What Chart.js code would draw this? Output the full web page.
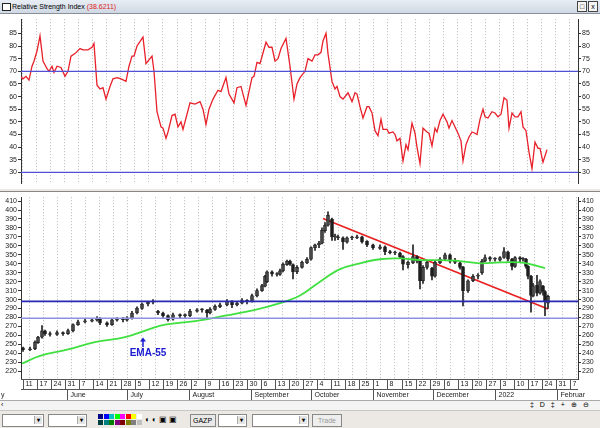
<!DOCTYPE html>
<html>
<head>
<meta charset="utf-8">
<script src="https://cdn.jsdelivr.net/npm/chart.js@4.4.1/dist/chart.umd.min.js"></script>
<style>
  body { margin: 0; width: 600px; height: 428px; background: #ece9e4; font-family: "Liberation Sans", Arial, sans-serif; overflow: hidden; position: relative; }
  .abs { position: absolute; }
  #titlebar { left: 0; top: 0; width: 600px; height: 13px; background: linear-gradient(#e8eef5, #cfd8e3); border-bottom: 1px solid #8a9099; font-size: 7px; line-height: 13px; }
  #titlebar .icon { position: absolute; left: 2px; top: 3px; width: 7px; height: 6px; border: 1px solid #222; background: #fff; }
  #titlebar .txt { position: absolute; left: 12px; top: 0; }
  #titlebar .btn { position: absolute; top: 1px; width: 8px; height: 9px; border: 1px solid #444; background: #f4f4f4; font-size: 7px; line-height: 9px; text-align: center; }
  #rsiBox { left: 0; top: 14px; width: 600px; height: 175px; background: #fff; }
  #priceBox { left: 0; top: 191px; width: 600px; height: 208px; background: #fff; border-top: 1px solid #888; }
  #scroll { left: 0; top: 400px; width: 600px; height: 9px; background: #f4f4f4; border-top: 1px solid #aaa; font-size: 7px; }
  #tools { left: 0; top: 410px; width: 600px; height: 18px; background: #ece9e4; border-top: 1px solid #c8c8c8; font-size: 7px; }
  .sel { position: absolute; top: 3px; height: 11px; background: #fff; border: 1px solid #888; }
  .sel b { position: absolute; right: 1px; top: 1px; width: 7px; height: 8px; background: #e4e4e4; border-left: 1px solid #aaa; font-size: 6px; text-align: center; line-height: 8px; }
  .pal { position: absolute; top: 3px; width: 5px; height: 5px; }
</style>
</head>
<body>
<div id="titlebar" class="abs">
  <div class="icon"></div>
  <div class="txt">Relative Strength Index <span style="color:#e02020">(38.6211)</span></div>
  <div class="btn" style="left:577px">□</div>
  <div class="btn" style="left:588px">x</div>
</div>
<div id="rsiBox" class="abs"><canvas id="rsiChart" width="600" height="175"></canvas></div>
<div id="priceBox" class="abs"><canvas id="priceChart" width="600" height="208"></canvas></div>
<div id="scroll" class="abs">
  <span style="position:absolute;left:1px;top:0">‹</span>
  <span style="position:absolute;left:530px;top:0;letter-spacing:2px">‡ D ‡ + ⊕ ⊖ ◂ ▸</span>
</div>
<div id="tools" class="abs">
  <div class="sel" style="left:2px;width:40px"><b>▾</b></div>
  <div class="sel" style="left:48px;width:37px"><b>▾</b></div>
  <div id="palette"></div>
  <div style="position:absolute;left:145px;top:4px;font-size:8px;letter-spacing:2px">◐◐▣▣</div>
  <div class="sel" style="left:190px;width:22px;background:#e8e8e8;padding-left:2px;line-height:11px">GAZP</div>
  <div class="sel" style="left:218px;width:27px"><b>▾</b></div>
  <div class="sel" style="left:252px;width:55px"><b>▾</b></div>
  <div class="sel" style="left:312px;width:28px;background:#eee;color:#999;text-align:center;line-height:11px">Trade</div>
</div>

<script>
// RSI series (day offset, value)
const rsiDays = [-2.5,-1,0.5,2,3.5,4.5,6,7.5,9,11,12,13.5,14.5,16,18,20,21.5,23,25,27.5,29,31.5,33.5,34.5,36,37.5,39,40.5,42.5,44,46,48,50.5,52,53.5,54.5,56,59,60.5,63.5,64.5,66,68,69,70.5,71.5,73.5,75,76.5,78,79,82.5,85,87.5,89,90.5,92,94,96.5,98,100.5,102,104.5,106,108,110.5,113.5,114.5,116,117.5,120.5,122,123.5,125,126.5,128,130.5,132.5,134.5,136,137.5,
  140,141.5,143.5,145,146.5,148,149,150.5,151.5,153.5,155,156,157.5,159,161.5,163.5,165,166,167.5,169,171,172,173.5,175,176.5,178,179,181,182,184,185,186,187.5,189,190.5,191.5,193.5,195,196,197.5,199,201,202,203.5,205,206,207.5,209,211,212,213.5,215,216.5,218,219,220.5,222,223.5,225,226,227.5,229,230,231.5,233.5,235,236.5,238,239.5,241,242,243.5,245,246.5,248,249,250.5,252,253.5,255,256.5,257.5,259,261];
const rsiValues = [68,67,68,66.5,72,74,78,84,74,71,70,72,69.5,72,71.5,68,70,76,77,79,78.5,78.5,79.5,81,64.5,63,63.5,59,64,67,67.5,67,66,72,76,76,80,83.5,73,76,70,54,48,47.5,43.5,46,52.5,53,48,50,47,57.5,57,58,55,49,55,59,62.5,62,67.5,61,57.5,63.5,64,56.5,67.5,68,73.5,73,81.5,79.5,79.5,74,75,79,83,72,59,65,67.5,
  70,75,74,76.5,76.5,77.5,82,85,77,66,63,64,60,59,61.5,58,61.5,61,56,51.5,56,56,53.5,46.5,44.5,51,47,47,45.5,46,45,42.5,43.5,34.5,41,39,49.5,45.5,40,33.5,47.5,46,45.5,40.5,47.5,46,50.5,53,50,47.5,50.5,48,45.5,42.5,34.5,41,44,46,45.5,45,51,55,52,51.5,54,53.5,52,53,59.5,58.5,47.5,53.5,52,52,54,48,46.5,38,31.5,42,39.5,39.5,34,39];
const rsiLevels = [70, 30];
const rsiTicks = [30,35,40,45,50,55,60,65,70,75,80,85];

// price candles
const candleDays = [-1,2.5,5,6.5,8.5,10,12.5,16,19,21.5,24,26.5,30,33.5,36,37.5,41,43.5,46,49,51,53.5,56,58.5,61.5,64,66.5,69,71.5,74,77.5,80,82.5,86,88.5,91,92.5,95,97.5,101,103.5,106,108.5,111,113.5,116,118.5,120,121,123.5,126,127.5,129,131,132.5,134,136,138.5,141,143,145,147,148.5,150,151.5,153.5,155,156.5,159,161,163.5,166,168.5,171,174,177.5,180,182.5,185,187.5,189,191.5,194,196,197.5,199,201,203.5,205,207.5,210,212.5,215,217.5,219,221.5,224,226.5,228.5,230,232.5,235,237.5,239.5,241.5,243.5,245,247.5,249,250.5,251.5,253,254,256,257.5,259,260,261.5];
const candleOpen  = [246,244,245,252,258,265,262,261,263,262,265,272,275,276,277,279,274,272,277,278,277,279,285,290,295,297,287,285,282,278,283,282,282,287,289,288,285,289,292,294,298,294,296,299,298,304,310,315,320,331,328,328,332,339,343,339,331,336,341,345,358,361,363,377,383,390,370,370,369,364,369,369,370,365,361,357,359,353,352,352,348,339,341,348,343,321,336,335,326,341,345,350,343,341,336,310,321,326,330,343,347,345,344,347,353,345,337,347,345,345,337,326,304,316,307,315,309,296];
const candleHigh  = [247,247,254,259,271,266,264,265,264,267,273,277,278,279,281,280,275,279,280,280,281,287,292,296,298,300,288,286,283,285,284,284,289,290,290,289,291,294,296,300,299,298,301,300,306,312,317,327,332,332,330,334,341,344,344,340,338,343,347,359,362,365,380,386,398,391,373,372,370,370,371,372,371,366,362,361,360,355,354,353,349,343,361,349,344,338,343,336,343,347,352,351,346,342,337,322,328,329,345,350,348,347,348,358,354,346,348,348,347,346,338,327,318,327,322,316,310,305];
const candleLow   = [242,243,244,251,257,260,259,260,260,261,264,271,274,275,276,272,270,271,276,275,276,278,284,289,293,295,283,280,276,277,279,280,281,286,286,280,284,288,291,293,291,293,295,295,297,303,309,314,319,326,326,327,331,338,338,323,329,335,340,344,355,358,362,375,382,366,366,367,356,363,367,368,363,359,356,356,350,351,350,346,333,335,340,341,312,318,334,322,325,340,344,341,340,334,293,308,320,323,328,342,343,343,343,346,343,333,336,342,343,335,323,286,303,304,306,305,282,290];
const candleClose = [244,245,252.5,258,265,262,261,263,262,265.5,272,275,276,277.5,278.5,274,272,277.5,278.5,277.5,279.5,285,290.5,295,297,298,285,282,277.5,283,282,282,287,288.5,288.5,285,289.5,292.5,294,298,294,296,299,298,304.5,310,315.5,326,331,328.5,328.5,332,339.5,343,339.5,331,336,341.5,345,358,361,363,377.5,383,394,370,370,369,364.5,369,369,370,364.5,361,358,359,353.5,352.5,352.5,348,339.5,341.5,348,343,321,336,341.5,326,341.5,345,350,343,341.5,336,310,321,326,326,343,347,345,345,347,353.5,345,337,347,345,345,337,326,304.5,315.5,307,320,309,298,303.5];

// EMA-55
const emaDays   = [-1.5,7.5,21,35,50,61.5,70,85,100,115,127.5,137.5,147.5,157.5,167.5,177.5,187.5,197.5,207.5,217.5,227.5,237.5,247.5,252.5,260];
const emaValues = [228.6,237,244,252.5,258,266.5,272,276,282,288.5,296,304.5,320,334,340.5,345,346,344,344,343,340.5,341.5,341.5,339.5,335];

const trendDays = [149, 261.5];
const trendValues = [390.5, 289.5];
const priceLevels = [298, 279];
const priceTicks = [220,230,240,250,260,270,280,290,300,310,320,330,340,350,360,370,380,390,400,410];

const weekLabels = ["11","17","24","31","7","14","21","28","5","12","19","26","2","9","16","23","30","6","13","20","27","4","11","18","25","1","8","15","22","29","6","13","20","27","3","10","17","24","31","7"];
const monthNames = ["June","July","August","September","October","November","December","2022","Februar"];
const monthStartDays = [21,51,82,113,143,174,204,235,266];

// palette in toolbar
const palColors = ["#000080","#0000ff","#00c0c0","#00ff00","#ff00ff","#ff0000","#ffff00","#ffffff","#004040","#008080","#008000","#800080","#800000","#808000","#808080","#c0c0c0"];
const pal = document.getElementById("palette");
palColors.forEach((c, i) => {
  const d = document.createElement("div");
  d.className = "pal";
  d.style.left = (98 + (i % 8) * 5.5) + "px";
  d.style.top = (i < 8 ? 3 : 9) + "px";
  d.style.background = c;
  pal.appendChild(d);
});

const weekTicks = weekLabels.map((l, i) => -1.15 + 7.015 * i);
const X_MIN = -2, X_MAX = 276.5;
const FONT = { family: "Liberation Sans", size: 7 };

function xScale(hideLabels) {
  return {
    type: "linear", min: X_MIN, max: X_MAX, offset: false,
    afterBuildTicks: s => { s.ticks = weekTicks.map(v => ({ value: v })); },
    afterFit: s => { s.height = hideLabels ? 0 : 21; },
    ticks: { display: false },
    grid: { color: "#b8b8b8", drawTicks: false },
    border: { display: false, dash: [1, 2] }
  };
}

function yScale(pos, min, max, ticks, w) {
  return {
    type: "linear", position: pos, min: min, max: max,
    afterBuildTicks: s => { s.ticks = ticks.map(v => ({ value: v })); },
    afterFit: s => { s.width = w; },
    ticks: { font: FONT, color: "#222", padding: 1, autoSkip: false },
    grid: { drawOnChartArea: false, tickLength: 3, color: "#333" },
    border: { color: "#333", width: 1 }
  };
}

function hLine(v, color, width, axis) {
  return {
    type: "line", data: [{ x: X_MIN, y: v }, { x: X_MAX, y: v }],
    borderColor: color, borderWidth: width, pointRadius: 0, yAxisID: axis || "y"
  };
}

// RSI panel
new Chart(document.getElementById("rsiChart"), {
  type: "line",
  data: {
    datasets: [
      hLine(rsiLevels[0], "#5050d8", 1.3),
      hLine(rsiLevels[1], "#5050d8", 1.3),
      {
        data: rsiDays.map((d, i) => ({ x: d, y: rsiValues[i] })),
        borderColor: "#e8202a", borderWidth: 1.3, pointRadius: 0, tension: 0
      }
    ]
  },
  options: {
    responsive: false, animation: false,
    layout: { padding: 0 },
    plugins: { legend: { display: false }, tooltip: { enabled: false } },
    scales: {
      x: xScale(true),
      y: yScale("left", 25.5, 90.6, rsiTicks, 21),
      y2: yScale("right", 25.5, 90.6, rsiTicks, 22)
    }
  }
});

// labels along the date axis and the EMA note
const datePlugin = {
  id: "dates",
  afterDraw(chart) {
    const ctx = chart.ctx, x = chart.scales.x, y = chart.scales.y;
    const area = chart.chartArea;
    ctx.save();
    ctx.fillStyle = "#fff";
    ctx.fillRect(area.left, area.bottom, area.right - area.left, 21);
    ctx.strokeStyle = "#555";
    ctx.lineWidth = 1;
    ctx.beginPath();
    ctx.moveTo(area.left, area.bottom + 0.5); ctx.lineTo(area.right, area.bottom + 0.5);
    ctx.moveTo(area.left, area.bottom + 10.5); ctx.lineTo(area.right, area.bottom + 10.5);
    ctx.stroke();
    ctx.font = "7px 'Liberation Sans'";
    ctx.fillStyle = "#222";
    ctx.textBaseline = "middle";
    weekLabels.forEach((l, i) => {
      const px = Math.round(x.getPixelForValue(weekTicks[i])) + 0.5;
      if (px > area.right) return;
      ctx.beginPath(); ctx.moveTo(px, area.bottom); ctx.lineTo(px, area.bottom + 10); ctx.stroke();
      ctx.fillText(l, px + 2, area.bottom + 5.5);
    });
    monthNames.forEach((m, i) => {
      const px = Math.round(x.getPixelForValue(monthStartDays[i])) + 0.5;
      ctx.beginPath(); ctx.moveTo(px, area.bottom + 10); ctx.lineTo(px, area.bottom + 21); ctx.stroke();
      ctx.fillText(m, px + 3, area.bottom + 16);
    });
    ctx.fillText("y", 1, area.bottom + 16);
    // EMA-55 note
    const ax = x.getPixelForValue(59);
    ctx.strokeStyle = "#1a1ad0"; ctx.fillStyle = "#1a1ad0"; ctx.lineWidth = 1.5;
    ctx.beginPath(); ctx.moveTo(ax, y.getPixelForValue(256)); ctx.lineTo(ax, y.getPixelForValue(247)); ctx.stroke();
    const ty = y.getPixelForValue(257.5);
    ctx.beginPath(); ctx.moveTo(ax, ty); ctx.lineTo(ax - 3, ty + 4); ctx.lineTo(ax + 3, ty + 4); ctx.closePath(); ctx.fill();
    ctx.font = "bold 10px 'Liberation Sans'";
    ctx.textAlign = "center";
    ctx.fillText("EMA-55", x.getPixelForValue(61.5), y.getPixelForValue(239.5));
    ctx.restore();
  }
};

// price panel
new Chart(document.getElementById("priceChart"), {
  type: "bar",
  data: {
    datasets: [
      hLine(priceLevels[0], "#2828b8", 1.8),
      hLine(priceLevels[1], "#9090e0", 1.5),
      {
        type: "line", data: emaDays.map((d, i) => ({ x: d, y: emaValues[i] })),
        borderColor: "#40e040", borderWidth: 1.8, pointRadius: 0, tension: 0.4
      },
      {
        data: candleDays.map((d, i) => ({ x: d, y: [candleLow[i], candleHigh[i]] })),
        backgroundColor: "#222", barThickness: 1, grouped: false
      },
      {
        data: candleDays.map((d, i) => ({ x: d, y: [candleOpen[i], candleClose[i]] })),
        backgroundColor: candleDays.map((d, i) => candleClose[i] >= candleOpen[i] ? "#fff" : "#111"),
        borderColor: "#111", borderWidth: 0.8, borderSkipped: false,
        barThickness: 3, grouped: false, minBarLength: 1
      },
      {
        type: "line", data: trendDays.map((d, i) => ({ x: d, y: trendValues[i] })),
        borderColor: "#e82020", borderWidth: 1.8, pointRadius: 0
      }
    ]
  },
  options: {
    responsive: false, animation: false,
    layout: { padding: 0 },
    plugins: { legend: { display: false }, tooltip: { enabled: false } },
    scales: {
      x: xScale(false),
      y: yScale("left", 211.3, 414.3, priceTicks, 21),
      y2: yScale("right", 211.3, 414.3, priceTicks, 22)
    }
  },
  plugins: [datePlugin]
});
</script>
</body>
</html>
